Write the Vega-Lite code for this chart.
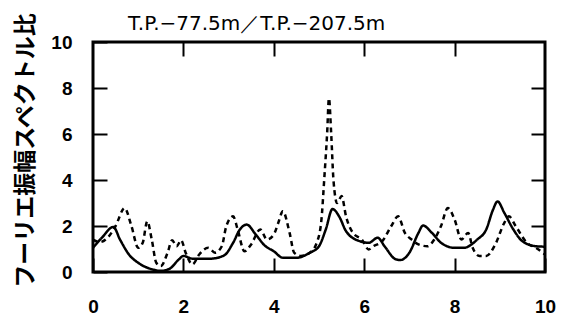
{
  "$schema": "https://vega.github.io/schema/vega-lite/v6.json",
  "width": 452,
  "height": 230,
  "autosize": {"type": "none"},
  "padding": {"left": 93, "top": 42, "right": 23, "bottom": 49},
  "config": {
    "view": {"stroke": "black", "strokeWidth": 3},
    "font": "Liberation Sans"
  },
  "title": {
    "text": "T.P.−77.5m／T.P.−207.5m",
    "anchor": "start",
    "frame": "group",
    "dx": 35,
    "dy": 26,
    "offset": 4,
    "fontSize": 20,
    "fontWeight": "normal",
    "font": "DejaVu Sans",
    "color": "black"
  },
  "datasets": {
    "spec": [
      {"f": 0, "r": 1.05, "s": "solid"}, {"f": 0.2, "r": 1.5, "s": "solid"}, {"f": 0.45, "r": 1.96, "s": "solid"},
      {"f": 0.6, "r": 1.4, "s": "solid"}, {"f": 0.8, "r": 0.75, "s": "solid"}, {"f": 1.0, "r": 0.4, "s": "solid"},
      {"f": 1.3, "r": 0.12, "s": "solid"}, {"f": 1.5, "r": 0.05, "s": "solid"}, {"f": 1.7, "r": 0.15, "s": "solid"},
      {"f": 1.9, "r": 0.55, "s": "solid"}, {"f": 2.0, "r": 0.7, "s": "solid"}, {"f": 2.2, "r": 0.58, "s": "solid"},
      {"f": 2.6, "r": 0.58, "s": "solid"}, {"f": 2.9, "r": 0.72, "s": "solid"}, {"f": 3.1, "r": 1.27, "s": "solid"},
      {"f": 3.25, "r": 1.85, "s": "solid"}, {"f": 3.4, "r": 2.06, "s": "solid"}, {"f": 3.6, "r": 1.63, "s": "solid"},
      {"f": 3.8, "r": 1.15, "s": "solid"}, {"f": 4.0, "r": 0.9, "s": "solid"}, {"f": 4.2, "r": 0.62, "s": "solid"},
      {"f": 4.5, "r": 0.62, "s": "solid"}, {"f": 4.8, "r": 0.84, "s": "solid"}, {"f": 5.0, "r": 1.12, "s": "solid"},
      {"f": 5.15, "r": 1.85, "s": "solid"}, {"f": 5.3, "r": 2.74, "s": "solid"}, {"f": 5.45, "r": 2.4, "s": "solid"},
      {"f": 5.6, "r": 1.77, "s": "solid"}, {"f": 5.9, "r": 1.34, "s": "solid"}, {"f": 6.1, "r": 1.27, "s": "solid"},
      {"f": 6.3, "r": 1.49, "s": "solid"}, {"f": 6.45, "r": 1.12, "s": "solid"}, {"f": 6.7, "r": 0.55, "s": "solid"},
      {"f": 6.8, "r": 0.52, "s": "solid"}, {"f": 7.0, "r": 0.84, "s": "solid"}, {"f": 7.2, "r": 1.7, "s": "solid"},
      {"f": 7.3, "r": 2.02, "s": "solid"}, {"f": 7.5, "r": 1.7, "s": "solid"}, {"f": 7.7, "r": 1.27, "s": "solid"},
      {"f": 8.0, "r": 1.05, "s": "solid"}, {"f": 8.2, "r": 1.05, "s": "solid"}, {"f": 8.5, "r": 1.41, "s": "solid"},
      {"f": 8.7, "r": 1.85, "s": "solid"}, {"f": 8.85, "r": 2.71, "s": "solid"}, {"f": 8.95, "r": 3.07, "s": "solid"},
      {"f": 9.1, "r": 2.57, "s": "solid"}, {"f": 9.3, "r": 1.85, "s": "solid"}, {"f": 9.5, "r": 1.34, "s": "solid"},
      {"f": 9.8, "r": 1.12, "s": "solid"}, {"f": 10, "r": 1.1, "s": "solid"},

      {"f": 0, "r": 1.41, "s": "dashed"}, {"f": 0.15, "r": 1.3, "s": "dashed"}, {"f": 0.35, "r": 1.55, "s": "dashed"},
      {"f": 0.5, "r": 2.0, "s": "dashed"}, {"f": 0.7, "r": 2.78, "s": "dashed"}, {"f": 0.85, "r": 2.0, "s": "dashed"},
      {"f": 1.0, "r": 1.05, "s": "dashed"}, {"f": 1.1, "r": 1.27, "s": "dashed"}, {"f": 1.2, "r": 2.2, "s": "dashed"},
      {"f": 1.3, "r": 1.41, "s": "dashed"}, {"f": 1.4, "r": 0.4, "s": "dashed"}, {"f": 1.5, "r": 0.26, "s": "dashed"},
      {"f": 1.65, "r": 0.84, "s": "dashed"}, {"f": 1.75, "r": 1.38, "s": "dashed"}, {"f": 1.85, "r": 1.12, "s": "dashed"},
      {"f": 1.95, "r": 1.38, "s": "dashed"}, {"f": 2.05, "r": 0.84, "s": "dashed"}, {"f": 2.2, "r": 0.33, "s": "dashed"},
      {"f": 2.35, "r": 0.76, "s": "dashed"}, {"f": 2.55, "r": 1.05, "s": "dashed"}, {"f": 2.7, "r": 0.84, "s": "dashed"},
      {"f": 2.85, "r": 1.12, "s": "dashed"}, {"f": 2.95, "r": 2.0, "s": "dashed"}, {"f": 3.1, "r": 2.42, "s": "dashed"},
      {"f": 3.2, "r": 1.85, "s": "dashed"}, {"f": 3.35, "r": 0.9, "s": "dashed"}, {"f": 3.5, "r": 1.2, "s": "dashed"},
      {"f": 3.7, "r": 1.85, "s": "dashed"}, {"f": 3.85, "r": 1.41, "s": "dashed"}, {"f": 4.0, "r": 1.63, "s": "dashed"},
      {"f": 4.1, "r": 2.14, "s": "dashed"}, {"f": 4.2, "r": 2.64, "s": "dashed"}, {"f": 4.35, "r": 1.7, "s": "dashed"},
      {"f": 4.45, "r": 0.84, "s": "dashed"}, {"f": 4.6, "r": 0.7, "s": "dashed"}, {"f": 4.8, "r": 0.84, "s": "dashed"},
      {"f": 4.95, "r": 1.27, "s": "dashed"}, {"f": 5.05, "r": 2.2, "s": "dashed"}, {"f": 5.12, "r": 4.16, "s": "dashed"},
      {"f": 5.18, "r": 6.03, "s": "dashed"}, {"f": 5.22, "r": 7.55, "s": "dashed"}, {"f": 5.27, "r": 6.0, "s": "dashed"},
      {"f": 5.32, "r": 4.0, "s": "dashed"}, {"f": 5.4, "r": 3.0, "s": "dashed"}, {"f": 5.5, "r": 3.3, "s": "dashed"},
      {"f": 5.6, "r": 2.4, "s": "dashed"}, {"f": 5.75, "r": 1.7, "s": "dashed"}, {"f": 5.95, "r": 1.41, "s": "dashed"},
      {"f": 6.1, "r": 0.98, "s": "dashed"}, {"f": 6.2, "r": 1.12, "s": "dashed"}, {"f": 6.4, "r": 1.34, "s": "dashed"},
      {"f": 6.6, "r": 2.0, "s": "dashed"}, {"f": 6.75, "r": 2.42, "s": "dashed"}, {"f": 6.9, "r": 1.7, "s": "dashed"},
      {"f": 7.05, "r": 1.41, "s": "dashed"}, {"f": 7.2, "r": 1.2, "s": "dashed"}, {"f": 7.4, "r": 1.12, "s": "dashed"},
      {"f": 7.55, "r": 1.41, "s": "dashed"}, {"f": 7.7, "r": 2.0, "s": "dashed"}, {"f": 7.85, "r": 2.78, "s": "dashed"},
      {"f": 8.0, "r": 2.28, "s": "dashed"}, {"f": 8.15, "r": 1.41, "s": "dashed"}, {"f": 8.3, "r": 1.7, "s": "dashed"},
      {"f": 8.4, "r": 1.05, "s": "dashed"}, {"f": 8.55, "r": 0.7, "s": "dashed"}, {"f": 8.7, "r": 0.7, "s": "dashed"},
      {"f": 8.9, "r": 1.2, "s": "dashed"}, {"f": 9.1, "r": 2.14, "s": "dashed"}, {"f": 9.2, "r": 2.42, "s": "dashed"},
      {"f": 9.35, "r": 2.0, "s": "dashed"}, {"f": 9.6, "r": 1.27, "s": "dashed"}, {"f": 9.8, "r": 1.05, "s": "dashed"},
      {"f": 10, "r": 0.76, "s": "dashed"}
    ]
  },
  "data": {"name": "spec"},
  "layer": [
    {
      "mark": {"type": "line", "interpolate": "monotone", "strokeWidth": 2.5, "color": "black"},
      "encoding": {
        "x": {
          "field": "f", "type": "quantitative",
          "scale": {"domain": [0, 10], "nice": false},
          "axis": {
            "orient": "bottom", "title": null, "values": [0, 2, 4, 6, 8, 10],
            "grid": false, "domain": false, "tickSize": -14, "tickWidth": 2, "tickColor": "black",
            "labelPadding": 39, "labelFontSize": 19, "labelFontWeight": "bold", "labelColor": "black",
            "labelFont": "Liberation Sans", "labelFlush": false
          }
        },
        "y": {
          "field": "r", "type": "quantitative",
          "scale": {"domain": [0, 10], "nice": false},
          "axis": {
            "orient": "left", "values": [0, 2, 4, 6, 8, 10],
            "title": "フーリエ振幅スペクトル比",
            "titleFont": "Noto Sans CJK JP", "titleFontSize": 23, "titleFontWeight": "bold", "titleColor": "black",
            "titleAngle": -90, "titleAlign": "center", "titleBaseline": "middle",
            "titleX": -68, "titleY": 108,
            "grid": false, "domain": false, "tickSize": -14, "tickWidth": 2, "tickColor": "black",
            "labelPadding": 35, "labelFontSize": 19, "labelFontWeight": "bold", "labelColor": "black",
            "labelFont": "Liberation Sans", "labelFlush": false
          }
        },
        "detail": {"field": "s"},
        "strokeDash": {
          "field": "s", "type": "nominal",
          "scale": {"domain": ["solid", "dashed"], "range": [[1, 0], [5, 4]]},
          "legend": null
        }
      }
    },
    {
      "mark": {"type": "line", "opacity": 0},
      "encoding": {
        "x": {
          "field": "f", "type": "quantitative",
          "scale": {"domain": [0, 10], "nice": false},
          "axis": {"orient": "top", "title": null, "values": [2, 4, 6, 8], "labels": false, "grid": false, "domain": false, "tickSize": -14, "tickWidth": 2, "tickColor": "black"}
        },
        "y": {
          "field": "r", "type": "quantitative",
          "scale": {"domain": [0, 10], "nice": false},
          "axis": {"orient": "right", "title": null, "values": [2, 4, 6, 8], "labels": false, "grid": false, "domain": false, "tickSize": -14, "tickWidth": 2, "tickColor": "black"}
        },
        "detail": {"field": "s"}
      }
    }
  ],
  "resolve": {"axis": {"x": "independent", "y": "independent"}}
}
